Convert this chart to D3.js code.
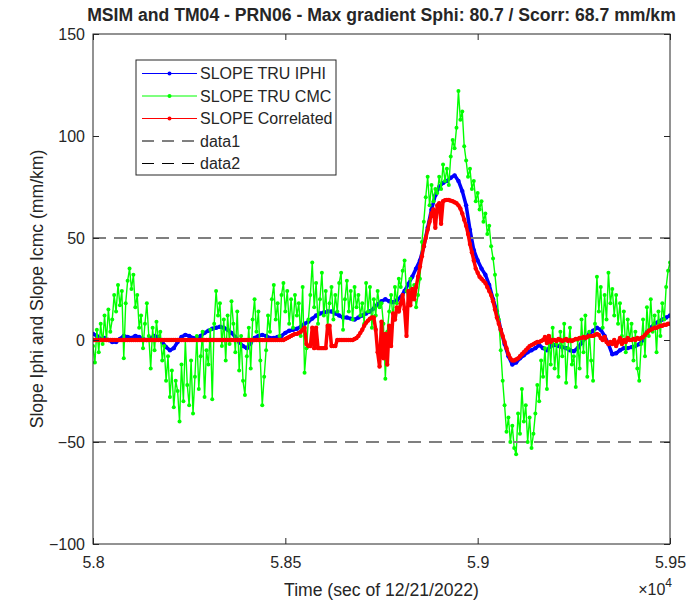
<!DOCTYPE html>
<html>
<head>
<meta charset="utf-8">
<script src="https://cdn.jsdelivr.net/npm/d3@7"></script>
<style>
  body { margin: 0; background: #fff; }
  svg text { font-family: "Liberation Sans", Arial, Helvetica, sans-serif; fill: #262626; }
</style>
</head>
<body>
<div id="canvas"></div>
<script>
// time axis (sec of day) and sampling of each series
var tStart = 58000;
var stepCmc = 5;
var stepIphi = 10;
var stepCorr = 5;

// SLOPE TRU IPHI (mm/km), every 10 s
var slopeIphi = [
  3, 2, 0.5, 1, 0, -1, -1, 0.5, 2, 1.5,
  1, 2, 1.5, 0.5, 0, 1, 2, 1.5, -1, -3.5,
  -5, -4, -1, 1.5, 2.5, 2, 1, 1, 2, 3.5,
  4.5, 5.5, 6, 6.5, 6, 5, 3.5, 1.5, -1, -3,
  -4, -1.5, 1, 2, 2.5, 2, 1, 1, 1.5, 2,
  3.5, 4.5, 5, 5.5, 6.5, 8, 9, 10.5, 12, 13,
  13.5, 14, 14, 13, 12, 11, 11, 10.5, 10, 11,
  12, 13, 14, 15.5, 17.5, 19, 20, 19, 18.5, 19.5,
  21, 24, 27.5, 31, 35, 39, 46, 55, 64, 71,
  75, 77, 78, 79.5, 80.7, 78, 73, 66, 54, 44,
  39, 35, 32, 27, 20, 14, 5, -2, -8, -12,
  -11, -9, -7.5, -6, -5, -4, -2.5, -4, -5, -3,
  -2.5, -3, -3.5, -4, -5, -5.5, -4, -1.5, 1, 3,
  4.5, 6, 5, 2, -2, -7, -6.5, -5, -4, -4,
  -3.5, -3, -2, 0, 4, 6, 8, 9, 10, 11,
  12
];

// SLOPE TRU CMC (mm/km), every 5 s
var slopeCmc = [
  -3, -11, 5, -6, 8, -2, 12, 0, 15, 4,
  10, 22, 14, 27, 17, 24, -9, 18, 29, 35,
  25, 32, 16, 22, 6, 12, -4, 8, 18, 2,
  -14, 6, -5, 9, 0, 4, -10, -3, -20, -8,
  -28, -15, -33, -20, -25, -40, -12, -30, 0, -22,
  -32, -10, -36, -18, 2, -24, -8, 4, -28, -5,
  -12, 5, -29, 8, 24, 12, 18, -3, 10, -10,
  12, -2, 19, 8, -6, 14, -15, 2, -20, -27,
  -8, 6, -14, 10, 20, 4, 14, -10, -32, -18,
  -5, 12, 4, 20, 27, 10, 18, 2, 22, 28,
  14, 24, 8, 20, 6, 22, 12, 18, 2, 26,
  -16, -4, 10, 22, 38, 16, 28, 8, 20, 33,
  12, 24, 6, 18, 26, 10, 22, 14, 28, 33,
  5, 20, 29, 14, 24, 10, 26, 16, 22, 12,
  18, 8, 28, 14, 26, 6, 20, 12, 24, 16,
  18, 8, -19, 4, 14, 22, 10, 26, 18, 30,
  26, 34, 39, 24, 18, 30, 20, 27, 16, 22,
  30, 48, 58, 70, 80, 66, 76, 68, 74, 72,
  80, 74, 86, 78, 84, 76, 90, 98, 94, 104,
  122, 108, 112, 95, 88, 80, 84, 74, 78, 68,
  72, 64, 68, 58, 62, 52, 56, 46, 40, 32,
  22, 10, -5, -20, -32, -45, -38, -50, -42, -53,
  -56, -36, -46, -24, -40, -32, -50, -38, -53, -46,
  -36, -22, -30, -10, -18, -4, -24, 2, -12, 6,
  -14, -2, -18, 4, -8, 8, -21, -4, 6, -12,
  -8, -23, 0, -14, 10, -6, 12, -18, 4, -10,
  -20, 8, 31, 14, 26, 6, 22, 10, 33, 18,
  25, 12, 22, 8, 18, 2, 14, -6, 10, 0,
  8, -10, 4, -14, -20, -2, 10, -8, 16, 2,
  20, 4, 12, -6, 14, 2, 18, 10, 26, 34,
  38
];

// SLOPE Correlated (mm/km), every 5 s
var slopeCorr = [
  0, 0, 0, 0, 0, 0, 0, 0, 0, 0,
  0, 0, 0, 0, 0, 0, 0, 0, 0, 0,
  0, 0, 0, 0, 0, 0, 0, 0, 0, 0,
  0, 0, 0, 0, 0, 0, 0, 0, 0, 0,
  0, 0, 0, 0, 0, 0, 0, 0, 0, 0,
  0, 0, 0, 0, 0, 0, 0, 0, 0, 0,
  0, 0, 0, 0, 0, 0, 0, 0, 0, 0,
  0, 0, 0, 0, 0, 0, 0, 0, 0, 0,
  0, 0, 0, 0, 0, 0, 0, 0, 0, 0,
  0, 0, 0, 0, 0, 0, 0, 0, 0, 0,
  0.5, 1, 1.5, 2, 2.5, 3, 3, 3.5, 4, 5,
  6, -2, -3, -3, 6, -4, 6, -4, -4, -4,
  -4, -4, 7, 7, -3, -3, -3, 0, 0, 0,
  0, 0, 0, 0, 0, 0, 0.5, 1, 2, 3.5,
  5, 7, 8.5, 9.5, 10.5, 11, 11, 5, -6, -13,
  9, -9, 3, -12, 7, -3, 13, 10, 16, 14,
  18, 22, 15, 2, 24, 17, 25, 20, 26, 31,
  36, 41, 46, 50, 54, 58, 62, 64, 55, 66,
  67, 57, 68, 68.5, 68.7, 68.6, 68.3, 68, 67.5, 67,
  66, 64.5, 62, 59, 56, 52, 47, 43, 39, 35,
  33, 31, 30, 29, 28, 26, 24, 22, 19, 15,
  11, 8, 5, 2, -1, -4, -7, -9, -10, -10,
  -9.5, -9, -8, -7, -6, -5, -4, -3, -2.5, -2,
  -1.5, -1, -1, -0.5, 0, 1.5, -1.5, 2, -1, 0,
  0, -0.5, 0.5, 0, -0.5, 0, 0.5, -0.5, 0, -0.5,
  0, 0.5, 0.5, 1, 1, 1.5, 1, 1.5, 2, 2,
  2, 2.5, 3, 2.5, 1, 0, 1.5, -1, -2, -1,
  -2, 0, -3, -1, 1, -2, 0, -1, 1, 0,
  0, 0.5, 0, 1, 0.5, 1, 1.5, 2.5, 3.5, 4.5,
  5, 5.5, 6, 6, 6.5, 7, 7, 7.5, 7.5, 8,
  8
];

// threshold lines data1 / data2
var thresholds = [50, -50];

var xTickValues = [58000, 58500, 59000, 59500];
var xTickLabels = ['5.8', '5.85', '5.9', '5.95'];
var yTickValues = [-100, -50, 0, 50, 100, 150];

var legendNames = ['SLOPE TRU IPHI', 'SLOPE TRU CMC', 'SLOPE Correlated', 'data1', 'data2'];
var legendColors = ['#0000ff', '#00ff00', '#ff0000', '#000000', '#000000'];

var width = 692, height = 600;
var axL = 93, axR = 670, axT = 34, axB = 544;
var axisColor = '#262626';

var svg = d3.select('#canvas').append('svg')
  .attr('width', width)
  .attr('height', height);

var x = d3.scaleLinear().domain([58000, 59500]).range([axL, axR]);
var y = d3.scaleLinear().domain([-100, 150]).range([axB, axT]);

var toPoints = function (vals, step) {
  return vals.map(function (v, i) { return { t: tStart + i * step, v: v }; });
};

svg.append('clipPath').attr('id', 'plotclip')
  .append('rect')
  .attr('x', axL).attr('y', axT)
  .attr('width', axR - axL).attr('height', axB - axT);

var plot = svg.append('g').attr('clip-path', 'url(#plotclip)');

var line = d3.line()
  .x(function (d) { return x(d.t); })
  .y(function (d) { return y(d.v); });

var drawSeries = function (data, color, lw, r) {
  plot.append('path')
    .datum(data)
    .attr('d', line)
    .attr('fill', 'none')
    .attr('stroke', color)
    .attr('stroke-width', lw)
    .attr('stroke-linejoin', 'round');
  plot.append('g').selectAll('circle').data(data)
    .enter().append('circle')
    .attr('cx', function (d) { return x(d.t); })
    .attr('cy', function (d) { return y(d.v); })
    .attr('r', r)
    .attr('fill', color);
};

drawSeries(toPoints(slopeIphi, stepIphi), '#0000ff', 3.5, 2.2);
drawSeries(toPoints(slopeCmc, stepCmc), '#00ff00', 1.4, 2);
drawSeries(toPoints(slopeCorr, stepCorr), '#ff0000', 3.5, 2.2);

// dashed threshold lines
plot.selectAll('line.thr').data(thresholds)
  .enter().append('line')
  .attr('class', 'thr')
  .attr('x1', axL).attr('x2', axR)
  .attr('y1', function (d) { return y(d); })
  .attr('y2', function (d) { return y(d); })
  .attr('stroke', '#7f7f7f')
  .attr('stroke-width', 2)
  .attr('stroke-dasharray', '13,8');

// axes with inward ticks on all four sides
var styleAxis = function (g) {
  g.select('.domain').remove();
  g.selectAll('line').attr('stroke', axisColor);
  g.selectAll('text').attr('font-size', 16).attr('fill', axisColor)
    .attr('font-family', '"Liberation Sans", Arial, sans-serif');
};

svg.append('g')
  .attr('transform', 'translate(0,' + axB + ')')
  .call(d3.axisBottom(x).tickValues(xTickValues)
    .tickFormat(function (d, i) { return xTickLabels[i]; })
    .tickSizeInner(-6).tickSizeOuter(0).tickPadding(13))
  .call(styleAxis);

svg.append('g')
  .attr('transform', 'translate(0,' + axT + ')')
  .call(d3.axisTop(x).tickValues(xTickValues).tickFormat('')
    .tickSizeInner(-6).tickSizeOuter(0))
  .call(styleAxis);

svg.append('g')
  .attr('transform', 'translate(' + axL + ',0)')
  .call(d3.axisLeft(y).tickValues(yTickValues)
    .tickSizeInner(-6).tickSizeOuter(0).tickPadding(8))
  .call(styleAxis);

svg.append('g')
  .attr('transform', 'translate(' + axR + ',0)')
  .call(d3.axisRight(y).tickValues(yTickValues).tickFormat('')
    .tickSizeInner(-6).tickSizeOuter(0))
  .call(styleAxis);

svg.append('rect')
  .attr('x', axL).attr('y', axT)
  .attr('width', axR - axL).attr('height', axB - axT)
  .attr('fill', 'none')
  .attr('stroke', axisColor)
  .attr('stroke-width', 1);

// title and labels
svg.append('text')
  .attr('x', (axL + axR) / 2).attr('y', 21)
  .attr('text-anchor', 'middle')
  .attr('font-size', 17.6).attr('font-weight', 'bold')
  .attr('fill', '#000')
  .text('MSIM and TM04 - PRN06 - Max gradient Sphi: 80.7 / Scorr: 68.7 mm/km');

svg.append('text')
  .attr('x', (axL + axR) / 2).attr('y', 596)
  .attr('text-anchor', 'middle')
  .attr('font-size', 17.6)
  .text('Time (sec of 12/21/2022)');

svg.append('text')
  .attr('transform', 'translate(37,' + (axT + axB) / 2 + ') rotate(-90)')
  .attr('text-anchor', 'middle')
  .attr('dy', '0.35em')
  .attr('font-size', 17.6)
  .text('Slope Iphi and Slope Icmc (mm/km)');

var expo = svg.append('text')
  .attr('x', axR + 2).attr('y', 595)
  .attr('text-anchor', 'end')
  .attr('font-size', 16);
expo.append('tspan').text('\u00d710');
expo.append('tspan').attr('dy', -8).attr('font-size', 12).text('4');

// legend
var lg = svg.append('g').attr('transform', 'translate(136,60)');
lg.append('rect')
  .attr('width', 200).attr('height', 115)
  .attr('fill', '#fff')
  .attr('stroke', axisColor)
  .attr('stroke-width', 1);

var rows = lg.selectAll('g.row').data(legendNames)
  .enter().append('g')
  .attr('class', 'row')
  .attr('transform', function (d, i) { return 'translate(0,' + (13.5 + i * 22.5) + ')'; });

rows.append('line')
  .attr('x1', 6).attr('x2', 61)
  .attr('stroke', function (d, i) { return legendColors[i]; })
  .attr('stroke-width', function (d, i) { return i < 3 ? 1.2 : 1; })
  .attr('stroke-dasharray', function (d, i) { return i < 3 ? null : '12,8'; });

rows.filter(function (d, i) { return i < 3; })
  .append('circle')
  .attr('cx', 33.5).attr('r', 2)
  .attr('fill', function (d, i) { return legendColors[i]; });

rows.append('text')
  .attr('x', 64).attr('dy', '0.35em')
  .attr('font-size', 16)
  .text(function (d) { return d; });
</script>
</body>
</html>
